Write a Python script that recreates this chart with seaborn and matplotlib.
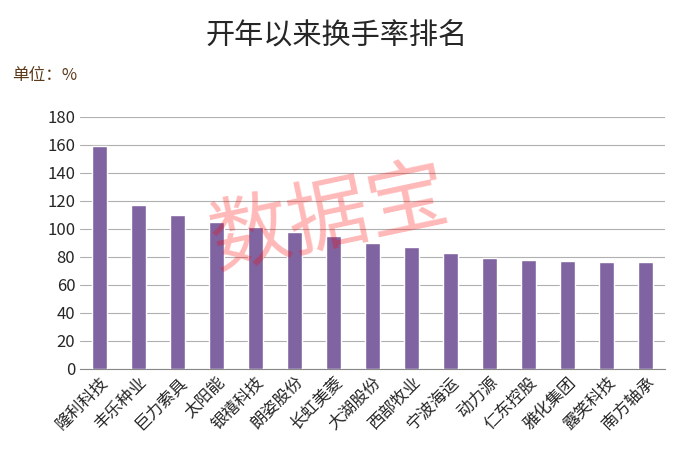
import matplotlib
matplotlib.use("Agg")
import matplotlib.pyplot as plt
import seaborn as sns
import pandas as pd

names = ["隆利科技","丰乐种业","巨力索具","太阳能","银禧科技","朗姿股份","长虹美菱","大湖股份",
         "西部牧业","宁波海运","动力源","仁东控股","雅化集团","露笑科技","南方轴承"]
values = [159, 117, 110, 105, 101, 98, 95, 90, 87, 83, 79, 78, 77, 76, 76]

sns.set_style("white")
plt.rcParams['font.family'] = ['Noto Sans CJK SC', 'DejaVu Sans']

fig = plt.figure(figsize=(6.74, 4.73), dpi=100)
ax = fig.add_axes([0.119, 0.22, 0.868, 0.533])
df = pd.DataFrame({"n": names, "v": values})
sns.barplot(data=df, x="n", y="v", color="#8064A2", saturation=1, width=0.38, ax=ax, zorder=3)
ax.set_ylim(0, 180)
ax.set_yticks(range(0, 181, 20))
ax.yaxis.grid(True, color="#b0b0b0", lw=0.8, zorder=0)
ax.set_xlabel(""); ax.set_ylabel("")
for s in ["top", "right", "left"]:
    ax.spines[s].set_visible(False)
ax.spines["bottom"].set_color("#888888")
ax.tick_params(axis="y", labelsize=12, length=0)
ax.tick_params(axis="x", labelsize=12, length=0)
plt.setp(ax.get_xticklabels(), rotation=45, ha="right", rotation_mode="anchor")
fig.text(0.5, 0.925, "开年以来换手率排名", ha="center", va="center", fontsize=21)
fig.text(0.018, 0.84, "单位：%", ha="left", va="center", fontsize=12, color="#5a3a1a")
fig.text(0.49, 0.535, "数据宝", ha="center", va="center", fontsize=58, color="red",
         alpha=0.28, rotation=12)
fig.savefig("out.png", dpi=100)
